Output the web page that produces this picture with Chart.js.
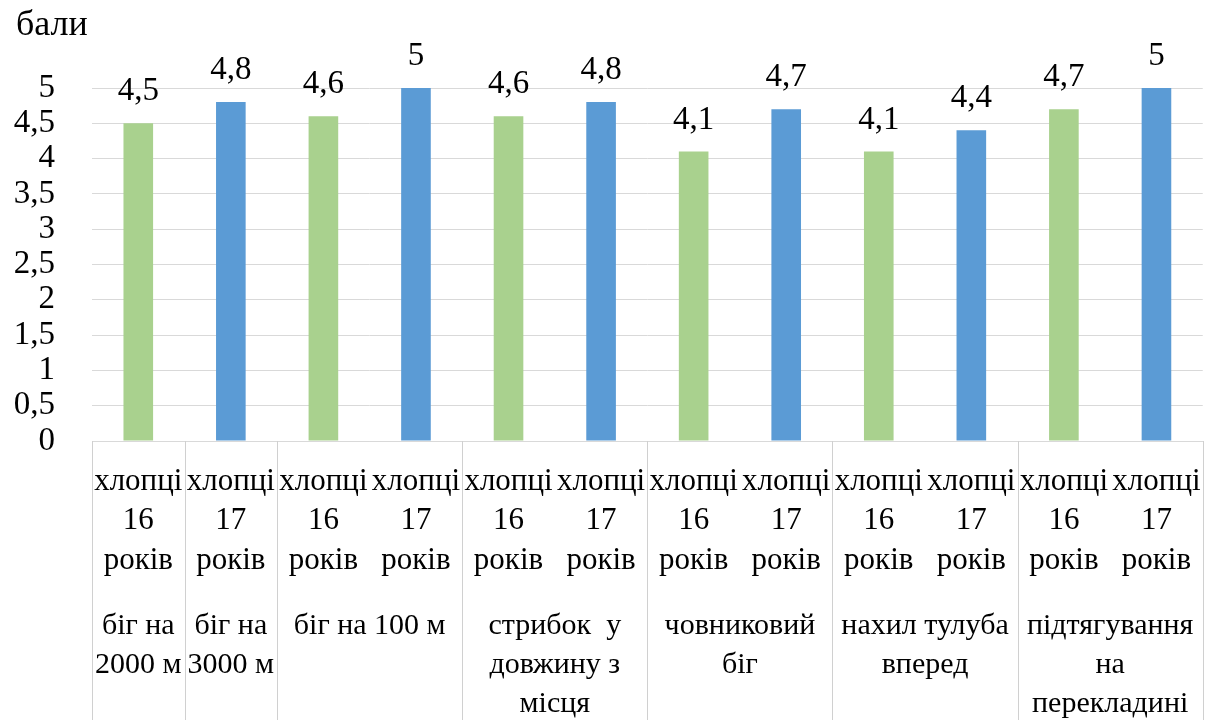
<!DOCTYPE html>
<html lang="uk">
<head>
<meta charset="utf-8">
<title>Оцінка фізичної підготовленості, бали</title>
<script src="https://cdn.jsdelivr.net/npm/chart.js@4/dist/chart.umd.min.js"></script>
<style>
  html, body { margin: 0; padding: 0; background: #ffffff; }
  #wrap { width: 1222px; height: 720px; }
</style>
</head>
<body>
<div id="wrap"><canvas id="chart" width="1222" height="720"></canvas></div>
<script>
// Inner labels: one bar per age group
const ageLabels = [
  ['хлопці', '16', 'років'], ['хлопці', '17', 'років'],
  ['хлопці', '16', 'років'], ['хлопці', '17', 'років'],
  ['хлопці', '16', 'років'], ['хлопці', '17', 'років'],
  ['хлопці', '16', 'років'], ['хлопці', '17', 'років'],
  ['хлопці', '16', 'років'], ['хлопці', '17', 'років'],
  ['хлопці', '16', 'років'], ['хлопці', '17', 'років']
];
const ages = [16, 17, 16, 17, 16, 17, 16, 17, 16, 17, 16, 17];

// Scores in points
const scores = [4.5, 4.8, 4.6, 5, 4.6, 4.8, 4.1, 4.7, 4.1, 4.4, 4.7, 5];

// Outer labels: test names and the bars they span (first, last index)
const testNames = [
  ['біг на', '2000 м'],
  ['біг на', '3000 м'],
  ['біг на 100 м'],
  ['стрибок  у', 'довжину з', 'місця'],
  ['човниковий', 'біг'],
  ['нахил тулуба', 'вперед'],
  ['підтягування', 'на', 'перекладині']
];
const testSpans = [[0, 0], [1, 1], [2, 3], [4, 5], [6, 7], [8, 9], [10, 11]];

const yTicks = [0, 0.5, 1, 1.5, 2, 2.5, 3, 3.5, 4, 4.5, 5];
const yTitle = 'бали';

const FONT = '"Liberation Serif", "Times New Roman", serif';
const GREEN = '#a9d18e';
const BLUE = '#5b9bd5';
const GRID = '#d9d9d9';

const fmt = v => String(v).replace('.', ',');

// Value labels above the bars, outer category row, separators and axis title
const decorations = {
  id: 'decorations',
  afterDatasetsDraw(chart) {
    const ctx = chart.ctx;
    const meta = chart.getDatasetMeta(0);
    ctx.save();
    ctx.fillStyle = '#000';
    ctx.font = '33px ' + FONT;
    ctx.textAlign = 'center';
    ctx.textBaseline = 'alphabetic';
    meta.data.forEach((bar, i) => {
      ctx.fillText(fmt(scores[i]), bar.x, bar.y - 23);
    });
    ctx.restore();
  },
  afterDraw(chart) {
    const ctx = chart.ctx;
    const x = chart.scales.x;
    const area = chart.chartArea;
    const half = (x.getPixelForValue(1) - x.getPixelForValue(0)) / 2;
    ctx.save();
    // separators below the axis
    ctx.strokeStyle = '#d0d0d0';
    ctx.lineWidth = 1;
    const edges = [testSpans[0][0]];
    testSpans.forEach(s => edges.push(s[1] + 1));
    edges.forEach(e => {
      const px = Math.round(x.getPixelForValue(e) - half) + 0.5;
      ctx.beginPath();
      ctx.moveTo(px, area.bottom);
      ctx.lineTo(px, chart.height);
      ctx.stroke();
    });
    // test names
    ctx.fillStyle = '#000';
    ctx.font = '30px ' + FONT;
    ctx.textAlign = 'center';
    ctx.textBaseline = 'alphabetic';
    testNames.forEach((lines, g) => {
      const [a, b] = testSpans[g];
      const cx = (x.getPixelForValue(a) + x.getPixelForValue(b)) / 2;
      lines.forEach((t, k) => ctx.fillText(t, cx, 634 + k * 39));
    });
    // axis title
    ctx.font = '36px ' + FONT;
    ctx.textAlign = 'left';
    ctx.fillText(yTitle, 16, 35);
    ctx.restore();
  }
};

new Chart(document.getElementById('chart'), {
  type: 'bar',
  data: {
    labels: ageLabels,
    datasets: [{
      data: scores,
      backgroundColor: ages.map(a => a === 16 ? GREEN : BLUE),
      borderWidth: 0,
      barPercentage: 0.32,
      categoryPercentage: 1
    }]
  },
  options: {
    responsive: false,
    devicePixelRatio: 1,
    animation: false,
    layout: { padding: { top: 88, left: 0, right: 10, bottom: 0 } },
    plugins: { legend: { display: false }, tooltip: { enabled: false } },
    scales: {
      x: {
        grid: { display: false, drawTicks: false },
        border: { display: true, color: GRID, width: 1 },
        ticks: {
          color: '#000',
          font: { family: FONT, size: 31, lineHeight: 1.27 },
          padding: 21,
          maxRotation: 0,
          autoSkip: false
        },
        afterFit(scale) { scale.height = 279; }
      },
      y: {
        min: 0,
        max: 5,
        afterBuildTicks(scale) { scale.ticks = yTicks.map(v => ({ value: v })); },
        grid: { color: GRID, lineWidth: 1, drawTicks: false },
        border: { display: false },
        ticks: {
          color: '#000',
          font: { family: FONT, size: 33 },
          padding: 37,
          autoSkip: false,
          callback: v => fmt(v)
        },
        afterFit(scale) { scale.width = 92; }
      }
    }
  },
  plugins: [decorations]
});
</script>
</body>
</html>
